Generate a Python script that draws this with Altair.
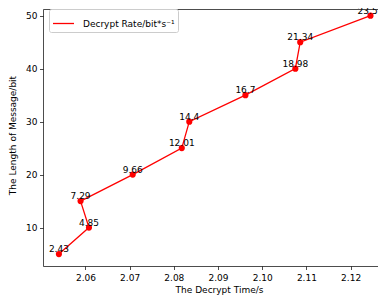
import altair as alt
import pandas as pd

# Data
times = [2.0540, 2.0608, 2.0589, 2.0707, 2.0818, 2.0835, 2.0962, 2.1075, 2.1086, 2.1245]
lengths = [5, 10, 15, 20, 25, 30, 35, 40, 45, 50]
rates = ["2.43", "4.85", "7.29", "9.66", "12.01", "14.4", "16.7", "18.98", "21.34", "23.53"]
x_ticks = [2.06, 2.07, 2.08, 2.09, 2.10, 2.11, 2.12]
y_ticks = [10, 20, 30, 40, 50]
series_name = "Decrypt Rate/bit*s\u207b\u00b9"

df = pd.DataFrame({
    "time": times,
    "length": lengths,
    "rate": rates,
    "series": [series_name] * len(times),
    "order": list(range(len(times))),
})

FONT = "DejaVu Sans"
RED = "#ff0000"

xscale = alt.Scale(domain=[2.0504, 2.1262], nice=False, zero=False)
yscale = alt.Scale(domain=[2.75, 51.26], nice=False, zero=False)

y_axis = alt.Axis(orient="left", values=y_ticks, format="d",
                  title="The Length of Message/bit", titleX=-26, titleY=126,
                  titleAngle=270, titleAlign="center", titleBaseline="bottom",
                  labelPadding=2.5)

base = alt.Chart(df)

line = base.mark_line(strokeWidth=1.3).encode(
    x=alt.X("time:Q", scale=xscale,
            axis=alt.Axis(orient="bottom", values=x_ticks, format=".2f",
                          title="The Decrypt Time/s", titleX=176, titleY=19,
                          titleAlign="center", titleBaseline="top")),
    y=alt.Y("length:Q", scale=yscale, axis=y_axis),
    order="order:Q",
    color=alt.Color("series:N", scale=alt.Scale(range=[RED]),
                    legend=alt.Legend(title=None, orient="none", legendX=6, legendY=0,
                                      symbolType="stroke", symbolSize=441,
                                      symbolStrokeWidth=1.3, symbolStrokeColor=RED,
                                      labelFont=FONT, labelFontSize=9, labelColor="black",
                                      labelOffset=8, padding=3,
                                      strokeColor="#cccccc", fillColor="white",
                                      cornerRadius=2)),
)

points = base.mark_circle(size=38, color=RED, opacity=1).encode(
    x=alt.X("time:Q", scale=xscale, axis=None),
    y=alt.Y("length:Q", scale=yscale, axis=y_axis),
)

labels = base.mark_text(baseline="alphabetic", dy=-2, fontSize=9, font=FONT,
                        color="black").encode(
    x=alt.X("time:Q", scale=xscale,
            axis=alt.Axis(orient="top", labels=False, ticks=False, title=None,
                          grid=False)),
    y=alt.Y("length:Q", scale=yscale, axis=y_axis),
    text="rate:N",
)

chart = alt.layer(line, points, labels).resolve_scale(x="shared", y="shared").resolve_axis(
    x="independent", y="shared"
).properties(
    width=335,
    height=257,
    autosize=alt.AutoSizeParams(type="none"),
    padding={"left": 35, "top": 1, "right": 0, "bottom": 34},
).configure_view(stroke=None).configure_axis(
    grid=False,
    labelFont=FONT, labelFontSize=9, labelColor="black",
    titleFont=FONT, titleFontSize=9, titleFontWeight="normal", titleColor="black",
    tickColor="black", tickWidth=0.7, tickSize=3.5,
    domainColor="black", domainWidth=0.7, labelPadding=3.5,
)

chart.save("out.html", embed_options={"renderer": "svg", "actions": False})
